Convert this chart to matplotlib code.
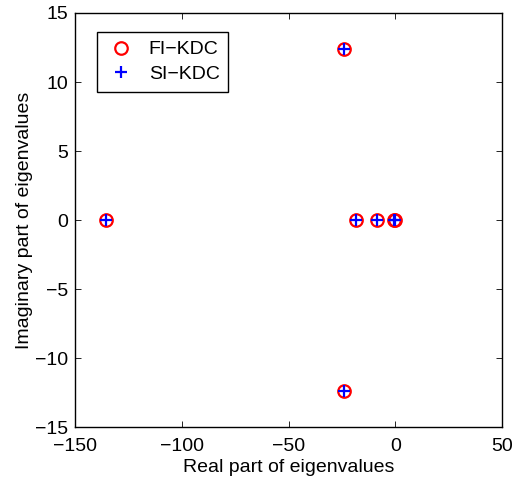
import numpy as np
import matplotlib.pyplot as plt
import matplotlib

matplotlib.rcParams['font.family'] = ['Liberation Sans', 'DejaVu Sans']
matplotlib.rcParams['font.size'] = 14
matplotlib.rcParams['xtick.direction'] = 'in'
matplotlib.rcParams['ytick.direction'] = 'in'

# 特征值 (实部, 虚部)
fi_real = [-135.5, -23.9, -23.9, -18.3, -8.6, -0.5, 0.0]
fi_imag = [0.0, 12.4, -12.4, 0.0, 0.0, 0.0, 0.0]
si_real = [-135.5, -23.9, -23.9, -18.3, -8.6, -0.5, 0.0]
si_imag = [0.0, 12.4, -12.4, 0.0, 0.0, 0.0, 0.0]

fig = plt.figure(figsize=(5.13, 4.8), dpi=100)
ax = fig.add_axes([0.146, 0.110, 0.833, 0.863])
ax.plot(fi_real, fi_imag, 'o', color='r', markerfacecolor='none', markersize=9, markeredgewidth=1.6, label='FI\u2212KDC')
ax.plot(si_real, si_imag, '+', color='b', markersize=8, markeredgewidth=1.6, label='SI\u2212KDC')
ax.set_xlim(-150, 50)
ax.set_ylim(-15, 15)
ax.set_xticks(np.arange(-150, 51, 50))
ax.set_yticks(np.arange(-15, 16, 5))
ax.tick_params(top=True, right=True, length=4, width=0.6)
ax.tick_params(axis='x', pad=8)
ax.tick_params(axis='y', pad=5)
for s in ax.spines.values():
    s.set_linewidth(1.0)
ax.set_xlabel('Real part of eigenvalues', labelpad=3)
ax.set_ylabel('Imaginary part of eigenvalues', labelpad=1)
leg = ax.legend(loc='upper left', bbox_to_anchor=(0.052, 0.954), fancybox=False, edgecolor='k', framealpha=1,
                borderpad=0.45, handletextpad=0.6, labelspacing=0.35, handlelength=1.6, borderaxespad=0.0)
leg.get_frame().set_linewidth(1.0)
plt.savefig('out.png')
